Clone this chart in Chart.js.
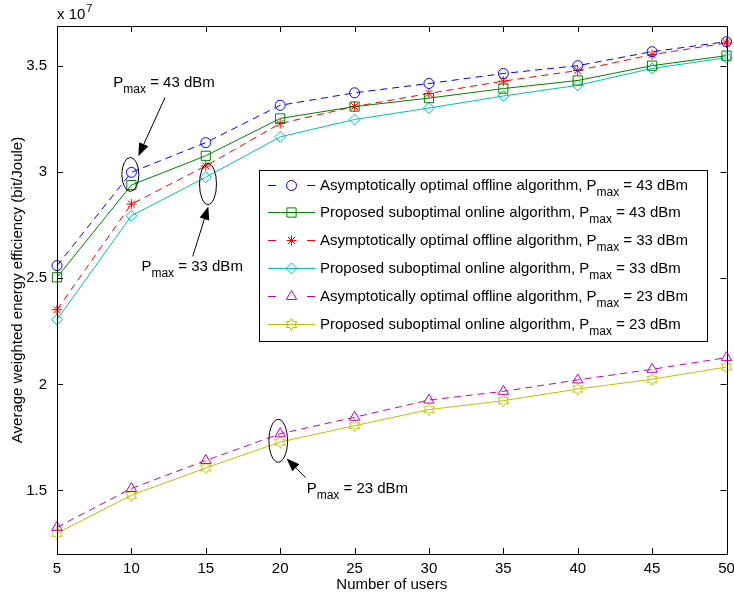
<!DOCTYPE html>
<html>
<head>
<meta charset="utf-8">
<script src="https://cdn.jsdelivr.net/npm/chart.js@4.4.1/dist/chart.umd.min.js"></script>
<style>
  html, body { margin: 0; padding: 0; background: #fff; }
  #wrap { width: 734px; height: 598px; }
</style>
</head>
<body>
<div id="wrap"><canvas id="ee_chart" width="734" height="598"></canvas></div>
<script>
// values are in units of 10^7 bit/Joule (the axis shows the "x 10^7" multiplier)
var users = [5, 10, 15, 20, 25, 30, 35, 40, 45, 50];
var xTicks = [5, 10, 15, 20, 25, 30, 35, 40, 45, 50];
var yTicks = [1.5, 2, 2.5, 3, 3.5];

var offline43 = [2.56, 3.00, 3.14, 3.316, 3.375, 3.419, 3.466, 3.503, 3.569, 3.616];
var online43  = [2.505, 2.94, 3.078, 3.254, 3.31, 3.35, 3.395, 3.433, 3.503, 3.55];
var offline33 = [2.352, 2.85, 3.03, 3.23, 3.31, 3.372, 3.43, 3.48, 3.555, 3.61];
var online33  = [2.305, 2.795, 2.977, 3.167, 3.249, 3.303, 3.36, 3.41, 3.49, 3.54];
var offline23 = [1.326, 1.509, 1.641, 1.767, 1.845, 1.926, 1.967, 2.021, 2.071, 2.126];
var online23  = [1.298, 1.477, 1.606, 1.728, 1.805, 1.881, 1.923, 1.978, 2.024, 2.082];

var offlineName = 'Asymptotically optimal offline algorithm, P';
var onlineName = 'Proposed suboptimal online algorithm, P';

var FONT = '"Liberation Sans", Arial, Helvetica, sans-serif';

// MATLAB style hexagram marker
function hexagram(color, size) {
  var c = document.createElement('canvas');
  c.width = size; c.height = size;
  var g = c.getContext('2d');
  var cx = size / 2, cy = size / 2, R = size / 2 - 0.5, r = R / Math.sqrt(3);
  g.beginPath();
  for (var i = 0; i < 12; i++) {
    var ang = -Math.PI / 2 + i * Math.PI / 6;
    var rr = (i % 2 === 0) ? R : r;
    g.lineTo(cx + rr * Math.cos(ang), cy + rr * Math.sin(ang));
  }
  g.closePath();
  g.strokeStyle = color; g.lineWidth = 1; g.stroke();
  return c;
}

function series(name, level, values, color, dash, style, radius) {
  return {
    label: name + 'max = ' + level + ' dBm',
    namePart: name, level: level,
    data: users.map(function (u, i) { return { x: u, y: values[i] }; }),
    borderColor: color,
    backgroundColor: color,
    borderWidth: 1,
    borderDash: dash,
    pointStyle: style,
    pointRadius: radius,
    pointHoverRadius: radius,
    pointBorderColor: color,
    pointBackgroundColor: 'rgba(0,0,0,0)',
    pointBorderWidth: 1,
    tension: 0,
    fill: false,
    clip: false
  };
}

var dashed = [7, 5];
var datasets = [
  series(offlineName, '43', offline43, '#0000ff', dashed, 'circle', 5),
  series(onlineName, '43', online43, '#008000', [], 'rect', 6.5),
  series(offlineName, '33', offline33, '#ff0000', dashed, 'star', 5),
  series(onlineName, '33', online33, '#00bfbf', [], 'rectRot', 5.5),
  series(offlineName, '23', offline23, '#bf00bf', dashed, 'triangle', 6),
  series(onlineName, '23', online23, '#bfbf00', [], hexagram('#bfbf00', 13), 6)
];

// ellipse callouts: centre in data units, size and offsets in pixels
var callouts = [
  { x: 9.93, y: 2.99, rx: 8.5, ry: 17, tip: [8, -18.3], tail: [34.7, -77], text: [-17, -87.3], level: '43' },
  { x: 15.15, y: 2.945, rx: 8.5, ry: 20.5, tip: [0.3, 22.5], tail: [-15.3, 72.5], text: [-66.6, 87.2], level: '33' },
  { x: 19.87, y: 1.734, rx: 9.3, ry: 21.5, tip: [8.4, 17.8], tail: [27.4, 36.8], text: [28.4, 51.8], level: '23' }
];

function drawPmax(ctx, pre, level, x, y) {
  ctx.fillStyle = '#000';
  ctx.textBaseline = 'alphabetic';
  ctx.textAlign = 'left';
  ctx.font = '15px ' + FONT;
  ctx.fillText(pre, x, y);
  x += ctx.measureText(pre).width;
  ctx.font = '12px ' + FONT;
  ctx.fillText('max', x, y + 6);
  x += ctx.measureText('max').width;
  ctx.font = '15px ' + FONT;
  ctx.fillText(' = ' + level + ' dBm', x, y);
  return x + ctx.measureText(' = ' + level + ' dBm').width;
}

function pmaxWidth(ctx, pre, level) {
  ctx.font = '15px ' + FONT;
  var w = ctx.measureText(pre).width + ctx.measureText(' = ' + level + ' dBm').width;
  ctx.font = '12px ' + FONT;
  return w + ctx.measureText('max').width;
}

function drawArrow(ctx, x1, y1, x2, y2) {
  var ang = Math.atan2(y2 - y1, x2 - x1), len = 13, hw = 5;
  var bx = x2 - len * Math.cos(ang), by = y2 - len * Math.sin(ang);
  ctx.beginPath();
  ctx.moveTo(x1, y1); ctx.lineTo(bx, by);
  ctx.stroke();
  ctx.beginPath();
  ctx.moveTo(x2, y2);
  ctx.lineTo(bx + hw * Math.sin(ang), by - hw * Math.cos(ang));
  ctx.lineTo(bx - hw * Math.sin(ang), by + hw * Math.cos(ang));
  ctx.closePath();
  ctx.fill();
}

var matlabLook = {
  id: 'matlabLook',
  afterDraw: function (chart) {
    var ctx = chart.ctx, a = chart.chartArea;
    var xs = chart.scales.x, ys = chart.scales.y;
    ctx.save();
    ctx.strokeStyle = '#000';
    ctx.fillStyle = '#000';
    ctx.lineWidth = 1;
    ctx.setLineDash([]);

    // axes box
    ctx.strokeRect(Math.round(a.left) + 0.5, Math.round(a.top) + 0.5,
      Math.round(a.right - a.left), Math.round(a.bottom - a.top));

    // inward ticks on all four sides
    var tl = 6;
    ctx.beginPath();
    xTicks.forEach(function (t) {
      var px = Math.round(xs.getPixelForValue(t)) + 0.5;
      ctx.moveTo(px, a.bottom); ctx.lineTo(px, a.bottom - tl);
      ctx.moveTo(px, a.top); ctx.lineTo(px, a.top + tl);
    });
    yTicks.forEach(function (t) {
      var py = Math.round(ys.getPixelForValue(t)) + 0.5;
      ctx.moveTo(a.left, py); ctx.lineTo(a.left + tl, py);
      ctx.moveTo(a.right, py); ctx.lineTo(a.right - tl, py);
    });
    ctx.stroke();

    // x 10^7 multiplier
    ctx.textAlign = 'left';
    ctx.textBaseline = 'alphabetic';
    ctx.font = '15px ' + FONT;
    ctx.fillText('x 10', a.left, a.top - 7);
    var w10 = ctx.measureText('x 10').width;
    ctx.font = '11px ' + FONT;
    ctx.fillText('7', a.left + w10 + 1, a.top - 14);

    // callouts
    callouts.forEach(function (c) {
      var cx = xs.getPixelForValue(c.x), cy = ys.getPixelForValue(c.y);
      ctx.beginPath();
      ctx.ellipse(cx, cy, c.rx, c.ry, 0, 0, Math.PI * 2);
      ctx.stroke();
      drawArrow(ctx, cx + c.tail[0], cy + c.tail[1], cx + c.tip[0], cy + c.tip[1]);
      drawPmax(ctx, 'P', c.level, cx + c.text[0], cy + c.text[1]);
    });

    // legend box
    var maxW = 0;
    chart.data.datasets.forEach(function (ds) {
      maxW = Math.max(maxW, pmaxWidth(ctx, ds.namePart, ds.level));
    });
    var rowH = 27.8;
    var bw = 61 + maxW + 19, bh = 171;
    var bx = Math.round(a.right - 20 - bw), by = Math.round(a.top + 144);
    ctx.fillStyle = '#fff';
    ctx.fillRect(bx, by, bw, bh);
    ctx.strokeStyle = '#000';
    ctx.strokeRect(bx + 0.5, by + 0.5, Math.round(bw), bh);

    var helpers = Chart.helpers;
    chart.data.datasets.forEach(function (ds, i) {
      var base = by + 19.5 + i * rowH;
      var ly = Math.round(base - 5) + 0.5;
      var x0 = bx + 9, x1 = bx + 56, mx = (x0 + x1) / 2;
      ctx.strokeStyle = ds.borderColor;
      ctx.lineWidth = 1;
      ctx.setLineDash(ds.borderDash.length ? [8, 31] : []);
      ctx.beginPath();
      ctx.moveTo(x0, ly); ctx.lineTo(x1, ly);
      ctx.stroke();
      ctx.setLineDash([]);
      if (typeof ds.pointStyle === 'object') {
        ctx.drawImage(ds.pointStyle, mx - ds.pointStyle.width / 2, ly - ds.pointStyle.height / 2);
      } else if (helpers && helpers.drawPoint) {
        ctx.fillStyle = 'rgba(0,0,0,0)';
        helpers.drawPoint(ctx, { pointStyle: ds.pointStyle, radius: ds.pointRadius, rotation: 0, borderWidth: 1 }, mx, ly);
      }
      drawPmax(ctx, ds.namePart, ds.level, bx + 61, base);
    });
    ctx.restore();
  }
};

var eeChart = new Chart(document.getElementById('ee_chart'), {
  type: 'line',
  data: { datasets: datasets },
  plugins: [matlabLook],
  options: {
    responsive: false,
    animation: false,
    devicePixelRatio: 1,
    layout: { padding: { left: 0, right: 0, top: 26, bottom: 0 } },
    plugins: {
      legend: { display: false },
      tooltip: { enabled: false }
    },
    scales: {
      x: {
        type: 'linear',
        min: 5,
        max: 50,
        afterFit: function (s) { s.height = 44; s.paddingRight = 7; s.paddingLeft = 0; },
        afterBuildTicks: function (s) { s.ticks = xTicks.map(function (v) { return { value: v }; }); },
        grid: { display: false },
        border: { display: false },
        ticks: { color: '#000', font: { family: FONT, size: 15 }, padding: -2, maxRotation: 0 },
        title: {
          display: true, text: 'Number of users', color: '#000',
          font: { family: FONT, size: 15 }, padding: { top: 0, bottom: 4 }
        }
      },
      y: {
        type: 'linear',
        min: 1.2,
        max: 3.69,
        afterFit: function (s) { s.width = 57; },
        afterBuildTicks: function (s) { s.ticks = yTicks.map(function (v) { return { value: v }; }); },
        grid: { display: false },
        border: { display: false },
        ticks: {
          color: '#000', font: { family: FONT, size: 15 }, padding: 2,
          callback: function (v) { return String(v); }
        },
        title: {
          display: true, text: 'Average weighted energy efficiency (bit/Joule)', color: '#000',
          font: { family: FONT, size: 15 }, padding: { top: 9, bottom: 0 }
        }
      }
    }
  }
});
</script>
</body>
</html>
